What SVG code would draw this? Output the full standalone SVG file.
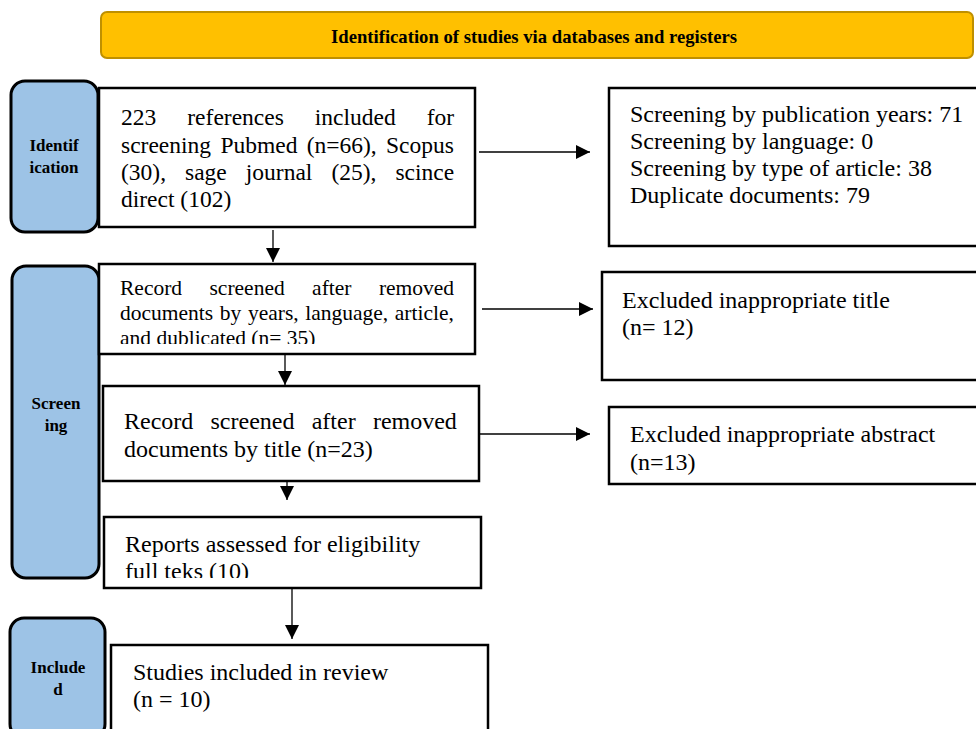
<svg xmlns="http://www.w3.org/2000/svg" width="976" height="729" viewBox="0 0 976 729">
<style>
.box{fill:#fff;stroke:#000;stroke-width:2.5}
.side{fill:#9DC3E6;stroke:#000;stroke-width:3}
.lbl{font-family:"Liberation Serif","Times New Roman",serif;font-weight:bold;font-size:17px;fill:#000;text-anchor:middle}
.t{font-family:"Liberation Serif","Times New Roman",serif;font-size:24px;fill:#000}
.t1{font-family:"Liberation Serif","Times New Roman",serif;font-size:23.5px;fill:#000}
.t2{font-family:"Liberation Serif","Times New Roman",serif;font-size:21.5px;fill:#000}
.ln{stroke:#000;stroke-width:1.3;fill:none}
</style>
<defs>
<marker id="ahs" viewBox="0 0 10 10" refX="10" refY="5" markerWidth="14" markerHeight="14" markerUnits="userSpaceOnUse" orient="auto">
<path d="M0,0 L10,5 L0,10 Z" fill="#000"/>
</marker>
<clipPath id="c2"><rect x="100" y="265" width="374" height="79"/></clipPath>
<clipPath id="c4"><rect x="105" y="518" width="375" height="60"/></clipPath>
</defs>

<g id="header">
<rect x="101" y="12" width="872" height="46" rx="6" fill="#FFC000" stroke="#BF9000" stroke-width="2"/>
<text x="534" y="43" class="lbl" style="font-size:19px" textLength="406" lengthAdjust="spacingAndGlyphs">Identification of studies via databases and registers</text>
</g>

<g id="stage-identification">
<rect x="11" y="81" width="87" height="151" rx="14" class="side"/>
<text x="54" y="151" class="lbl"><tspan x="54">Identif</tspan><tspan x="54" dy="22">ication</tspan></text>
</g>
<g id="stage-screening">
<rect x="12" y="266" width="87" height="312" rx="14" class="side"/>
<text x="56" y="409" class="lbl"><tspan x="56">Screen</tspan><tspan x="56" dy="22">ing</tspan></text>
</g>
<g id="stage-included">
<rect x="10" y="618" width="95" height="120" rx="14" class="side"/>
<text x="58" y="673" class="lbl"><tspan x="58">Include</tspan><tspan x="58" dy="22">d</tspan></text>
</g>

<g id="n1">
<rect x="99" y="88" width="376" height="139" class="box"/>
<text class="t1" y="125"><tspan x="121">223</tspan><tspan x="187.3">references</tspan><tspan x="314.8">included</tspan><tspan x="426.7">for</tspan></text>
<text class="t1" y="153"><tspan x="121">screening</tspan><tspan x="220.4">Pubmed</tspan><tspan x="306.7">(n=66),</tspan><tspan x="386">Scopus</tspan></text>
<text class="t1" y="180"><tspan x="121">(30),</tspan><tspan x="185">sage</tspan><tspan x="245.8">journal</tspan><tspan x="331.4">(25),</tspan><tspan x="395.4">scince</tspan></text>
<text class="t1" x="121" y="207">direct (102)</text>
</g>

<g id="n1r">
<rect x="609" y="88" width="380" height="158" class="box"/>
<text class="t" x="630" y="122">Screening by publication years: 71</text>
<text class="t" x="630" y="149">Screening by language: 0</text>
<text class="t" x="630" y="176">Screening by type of article: 38</text>
<text class="t" x="630" y="203">Duplicate documents: 79</text>
</g>

<g id="n2">
<rect x="99" y="264" width="376" height="90" class="box"/>
<g clip-path="url(#c2)">
<text class="t2" y="295"><tspan x="120">Record</tspan><tspan x="209.5">screened</tspan><tspan x="312.1">after</tspan><tspan x="378.9">removed</tspan></text>
<text class="t2" y="320"><tspan x="120">documents</tspan><tspan x="219.8">by</tspan><tspan x="247.9">years,</tspan><tspan x="305.2">language,</tspan><tspan x="394.8">article,</tspan></text>
<text class="t2" x="120" y="345">and dublicated (n= 35)</text>
</g>
</g>

<g id="n2r">
<rect x="602" y="272" width="387" height="108" class="box"/>
<text class="t" x="622" y="308">Excluded inappropriate title</text>
<text class="t" x="622" y="335">(n= 12)</text>
</g>

<g id="n3">
<rect x="103" y="386" width="376" height="95" class="box"/>
<text class="t" y="429"><tspan x="124">Record</tspan><tspan x="210.5">screened</tspan><tspan x="311.7">after</tspan><tspan x="372.9">removed</tspan></text>
<text class="t" x="124" y="457">documents by title (n=23)</text>
</g>

<g id="n3r">
<rect x="609" y="407" width="380" height="77" class="box"/>
<text class="t" x="630" y="442">Excluded inappropriate abstract</text>
<text class="t" x="630" y="470">(n=13)</text>
</g>

<g id="n4">
<rect x="104" y="517" width="377" height="71" class="box"/>
<g clip-path="url(#c4)">
<text class="t" x="125" y="552">Reports assessed for eligibility</text>
<text class="t" x="125" y="579">full teks (10)</text>
</g>
</g>

<g id="n5">
<rect x="111" y="645" width="377" height="95" class="box"/>
<text class="t" x="133" y="680">Studies included in review</text>
<text class="t" x="133" y="707">(n = 10)</text>
</g>

<g id="connectors">
<line x1="479" y1="152" x2="590" y2="152" class="ln" marker-end="url(#ahs)"/>
<line x1="482" y1="309" x2="593" y2="309" class="ln" marker-end="url(#ahs)"/>
<line x1="480" y1="434" x2="590" y2="434" class="ln" marker-end="url(#ahs)"/>
<line x1="273" y1="230" x2="273" y2="262" class="ln" marker-end="url(#ahs)"/>
<line x1="285" y1="355" x2="285" y2="385" class="ln" marker-end="url(#ahs)"/>
<line x1="287" y1="482" x2="287" y2="500" class="ln" marker-end="url(#ahs)"/>
<line x1="292" y1="589" x2="292" y2="639" class="ln" marker-end="url(#ahs)"/>
</g>
</svg>
